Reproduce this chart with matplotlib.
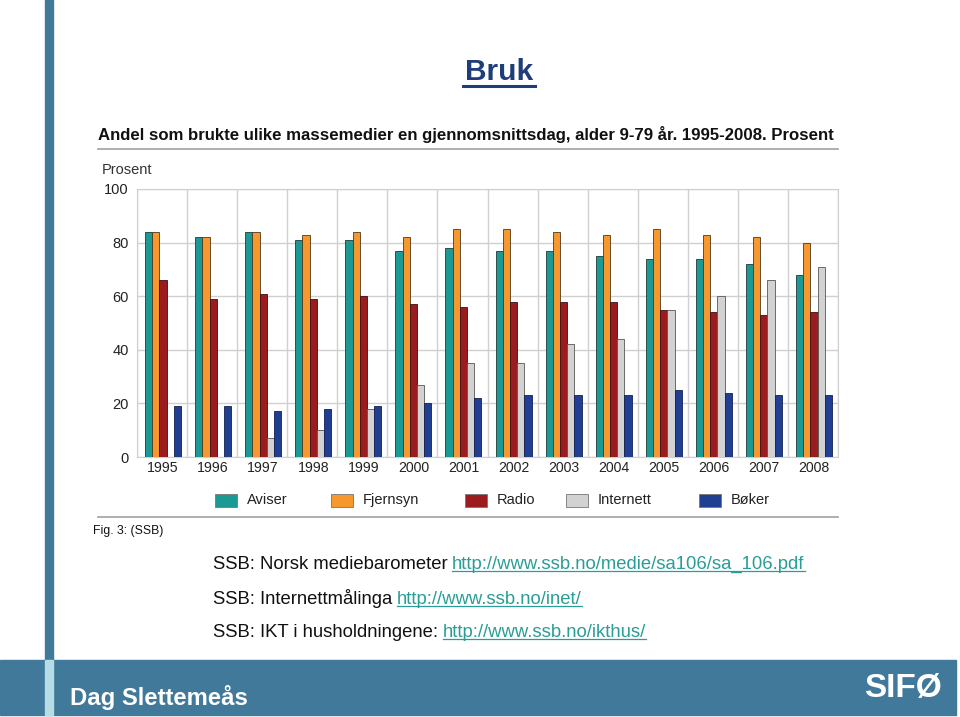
# plot.py
# Slide: "Bruk" - andel som brukte ulike massemedier, 1995-2008

import matplotlib
matplotlib.use('Agg')
import matplotlib.pyplot as plt
from matplotlib.patches import Rectangle
from matplotlib.lines import Line2D
import numpy as np

plt.rcParams['font.family'] = ['Liberation Sans', 'DejaVu Sans']

# -----------------data
years = ['1995', '1996', '1997', '1998', '1999', '2000', '2001',
         '2002', '2003', '2004', '2005', '2006', '2007', '2008']
aviser = [84, 82, 84, 81, 81, 77, 78, 77, 77, 75, 74, 74, 72, 68]
fjernsyn = [84, 82, 84, 83, 84, 82, 85, 85, 84, 83, 85, 83, 82, 80]
radio = [66, 59, 61, 59, 60, 57, 56, 58, 58, 58, 55, 54, 53, 54]
internett = [0, 0, 7, 10, 18, 27, 35, 35, 42, 44, 55, 60, 66, 71]
boker = [19, 19, 17, 18, 19, 20, 22, 23, 23, 23, 25, 24, 23, 23]
series_names = ['Aviser', 'Fjernsyn', 'Radio', 'Internett', 'Bøker']
yticks = [0, 20, 40, 60, 80, 100]

sources = [
    ('SSB: Norsk mediebarometer', 'http://www.ssb.no/medie/sa106/sa_106.pdf'),
    ('SSB: Internettmålinga', 'http://www.ssb.no/inet/'),
    ('SSB: IKT i husholdningene:', 'http://www.ssb.no/ikthus/'),
]

# -----------------stil
colors = ['#1b9a95', '#f7982f', '#9c1b1f', '#d2d2d2', '#213f92']
edges = ['#1d3b3a', '#4a3a20', '#3a1010', '#555555', '#152050']
frame_blue = '#41799a'
link_col = '#2a9d97'
navy = '#1f3d78'

W, H = 960, 717


def fx(px):
    return px / W


def fy(py):  # pikselrad fra toppen -> figurkoordinat
    return 1 - py / H


fig = plt.figure(figsize=(W / 100, H / 100), dpi=100, facecolor='white')

# -----------------ramme (venstre stolpe + bunnbånd)
fig.patches.append(Rectangle((fx(45), fy(660)), fx(8), 660 / H,
                             transform=fig.transFigure, color=frame_blue, zorder=0))
fig.patches.append(Rectangle((0, fy(715)), fx(956), 55 / H,
                             transform=fig.transFigure, color=frame_blue, zorder=0))
fig.patches.append(Rectangle((fx(45), fy(715)), fx(8), 55 / H,
                             transform=fig.transFigure, color='#b6dde6', zorder=1))

# -----------------overskrift
fig.text(fx(499), fy(80), 'Bruk', ha='center', va='baseline',
         fontsize=21.5, fontweight='bold', color=navy)
fig.add_artist(Line2D([fx(463), fx(535)], [fy(85.5), fy(85.5)],
                      transform=fig.transFigure, color=navy, lw=2.2))

fig.text(fx(98), fy(140), 'Andel som brukte ulike massemedier en gjennomsnittsdag, '
         'alder 9-79 år. 1995-2008. Prosent', ha='left', va='baseline',
         fontsize=12.1, fontweight='bold', color='#111111')
fig.add_artist(Line2D([fx(98), fx(838)], [fy(148.5), fy(148.5)],
                      transform=fig.transFigure, color='#a8a8a8', lw=1.3))
fig.text(fx(102), fy(174), 'Prosent', ha='left', va='baseline',
         fontsize=10.5, color='#333333')

# -----------------stolpediagram
ax = fig.add_axes([fx(137), fy(457), fx(701), (457 - 189) / H])
x = np.arange(len(years))
bw = 0.144
for j, vals in enumerate([aviser, fjernsyn, radio, internett, boker]):
    ax.bar(x + 0.16 + j * bw, vals, width=bw, align='edge', color=colors[j],
           edgecolor=edges[j], linewidth=0.6, zorder=3)
ax.set_xlim(0, len(years))
ax.set_ylim(0, 100)
ax.set_yticks(yticks)
ax.set_yticklabels([str(v) for v in yticks], fontsize=10.5, color='#222222')
ax.set_xticks(x + 0.52)
ax.set_xticklabels(years, fontsize=10.2, color='#222222')
ax.set_xticks(np.arange(len(years) + 1), minor=True)
ax.tick_params(axis='both', which='both', length=0, pad=3)
ax.tick_params(axis='y', pad=6)
ax.grid(axis='y', color='#d0d0d0', lw=1.0, zorder=0)
ax.grid(axis='x', which='minor', color='#d0d0d0', lw=1.0, zorder=0)
for sp in ax.spines.values():
    sp.set_color('#d0d0d0')

# -----------------forklaring
leg_x = [215, 331, 465, 566, 699]
for j, name in enumerate(series_names):
    fig.patches.append(Rectangle((fx(leg_x[j]), fy(507)), fx(22), 13 / H,
                                 transform=fig.transFigure, facecolor=colors[j],
                                 edgecolor='#777777', lw=0.6))
    fig.text(fx(leg_x[j] + 32), fy(500), name, ha='left', va='center',
             fontsize=10.5, color='#222222')
fig.add_artist(Line2D([fx(98), fx(838)], [fy(517), fy(517)],
                      transform=fig.transFigure, color='#a8a8a8', lw=1.3))
fig.text(fx(93), fy(534), 'Fig. 3: (SSB)', ha='left', va='baseline',
         fontsize=8.8, color='#111111')

# -----------------kilder med lenker
fig.canvas.draw()
r = fig.canvas.get_renderer()
for (label, url), base in zip(sources, [569, 604, 637]):
    t = fig.text(fx(213), fy(base), label, ha='left', va='baseline',
                 fontsize=13.3, color='#111111')
    bb = t.get_window_extent(r)
    lt = fig.text((bb.x1 + 4.5) / W, fy(base), url, ha='left', va='baseline',
                  fontsize=13.3, color=link_col)
    lb = lt.get_window_extent(r)
    fig.add_artist(Line2D([lb.x0 / W, lb.x1 / W], [fy(base + 2), fy(base + 2)],
                          transform=fig.transFigure, color=link_col, lw=0.9))

# -----------------bunnbånd tekst
fig.text(fx(70), fy(705), 'Dag Slettemeås', ha='left', va='baseline',
         fontsize=17.2, fontweight='bold', color='white')
fig.text(fx(903), fy(689), 'SIFØ', ha='center', va='center',
         fontsize=24, fontweight='bold', color='white')

fig.savefig('out.png', dpi=100, facecolor='white')
